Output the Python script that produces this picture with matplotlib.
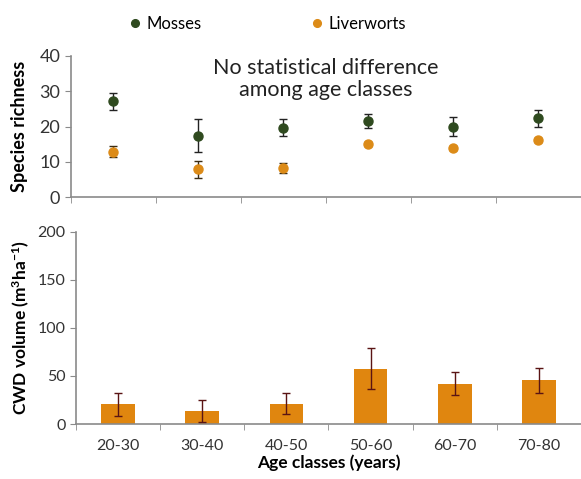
"""Bryophyte richness and CWD volume across forest age classes."""

import matplotlib
matplotlib.use("Agg")
import matplotlib.pyplot as plt
import numpy as np


age_classes = ["20-30", "30-40", "40-50", "50-60", "60-70", "70-80"]

mosses = [27.1, 17.4, 19.7, 21.6, 20.0, 22.4]
mosses_err = [2.5, 4.7, 2.3, 1.9, 2.6, 2.4]
liverworts = [12.9, 7.9, 8.2, 15.0, 13.9, 16.2]
liverworts_err = [1.6, 2.4, 1.5, 0.5, 0.5, 0.5]

cwd = [20.7, 13.1, 21.0, 57.7, 42.1, 45.3]
cwd_err = [12.0, 11.4, 11.0, 21.0, 12.0, 13.4]

MOSS_C = "#2f4a1f"
LIV_C = "#dc8b18"
BAR_C = "#e0860f"
AXIS_C = "#8a8a8a"

plt.rcParams.update({
    "font.family": ["Lato", "DejaVu Sans"],
    "mathtext.fontset": "custom",
    "mathtext.rm": "Lato",
    "mathtext.bf": "Lato:bold",
    "mathtext.default": "bf",
})


def style_axes(ax, xmax):
    for s in ("top", "right"):
        ax.spines[s].set_visible(False)
    for s in ("left", "bottom"):
        ax.spines[s].set_color(AXIS_C)
        ax.spines[s].set_linewidth(1.2)
    ax.set_xlim(-0.5, xmax)
    ax.set_xticks(np.arange(len(age_classes) + 1) - 0.5, minor=True)
    ax.set_xticks(np.arange(len(age_classes)))
    ax.tick_params(axis="x", which="major", length=0)
    ax.tick_params(axis="x", which="minor", length=4, color=AXIS_C,
                   direction="out")
    ax.tick_params(axis="y", length=4, color=AXIS_C, direction="out",
                   colors="#333333")


fig = plt.figure(figsize=(5.81, 4.79), dpi=100)
x = np.arange(len(age_classes))

# ---------------- top: species richness ----------------
ax1 = fig.add_axes([0.1217, 0.5887, 0.8783, 0.2944])
ax1.errorbar(x, mosses, yerr=mosses_err, fmt="none", ecolor="#222222",
             elinewidth=1.0, capsize=3, capthick=1.0, zorder=2)
ax1.errorbar(x, liverworts, yerr=liverworts_err, fmt="none", ecolor="#3a2c14",
             elinewidth=1.0, capsize=3, capthick=1.0, zorder=2)
ax1.plot(x, mosses, "o", color=MOSS_C, markersize=6.5, zorder=3,
         label="Mosses")
ax1.plot(x, liverworts, "o", color=LIV_C, markersize=6.5, zorder=3,
         label="Liverworts")
style_axes(ax1, 5.468)
ax1.set_ylim(0, 40)
ax1.set_yticks([0, 10, 20, 30, 40])
ax1.tick_params(axis="y", labelsize=13)
ax1.set_xticklabels([])
ax1.set_ylabel("Species richness", fontsize=13, fontweight="bold",
               labelpad=8)
ax1.text(0.5, 0.985, "No statistical difference\namong age classes",
         transform=ax1.transAxes, ha="center", va="top", fontsize=15.5,
         color="#222222", linespacing=1.1)
ax1.legend(loc="upper left", bbox_to_anchor=(0.08, 1.39), ncol=2,
           frameon=False, fontsize=12, handletextpad=0.2,
           columnspacing=6.4, markerscale=0.85, handlelength=1.0)

# ---------------- bottom: CWD volume ----------------
ax2 = fig.add_axes([0.1308, 0.1148, 0.8692, 0.4015])
ax2.bar(x, cwd, width=0.4, color=BAR_C, zorder=2)
ax2.errorbar(x, cwd, yerr=cwd_err, fmt="none", ecolor="#5a1414",
             elinewidth=1.0, capsize=3, capthick=1.0, zorder=3)
style_axes(ax2, 5.42)
ax2.set_ylim(0, 200)
ax2.set_yticks([0, 50, 100, 150, 200])
ax2.set_xticklabels(age_classes, fontsize=11.5, color="#333333")
ax2.tick_params(axis="y", labelsize=11.5)
ax2.tick_params(axis="x", pad=11)
ax2.set_ylabel(r"CWD volume (m$^3$ha$^{-1}$)", fontsize=12.5,
               fontweight="bold", labelpad=4)
ax2.set_xlabel("Age classes (years)", fontsize=12.5, fontweight="bold",
               labelpad=1)

fig.savefig("out.png", dpi=100)
plt.close(fig)
